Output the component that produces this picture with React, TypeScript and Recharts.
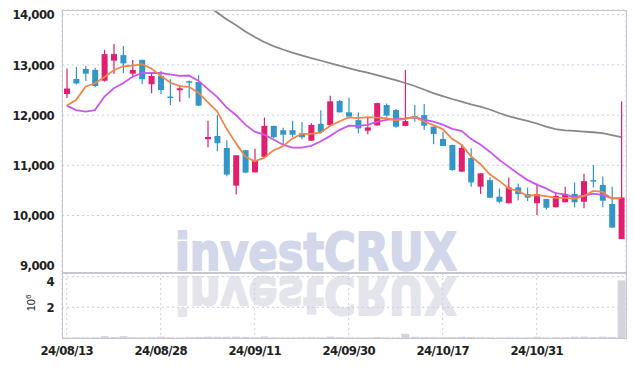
import { ComposedChart, BarChart, Bar, Line, XAxis, YAxis, CartesianGrid } from 'recharts';

// trading days, 24/08/13 .. 24/11/13
const dates = [
  '24/08/13', '24/08/14', '24/08/16', '24/08/19', '24/08/20', '24/08/21', '24/08/22', '24/08/23', '24/08/26', '24/08/27',
  '24/08/28', '24/08/29', '24/08/30', '24/09/02', '24/09/03', '24/09/04', '24/09/05', '24/09/06', '24/09/09', '24/09/10',
  '24/09/11', '24/09/12', '24/09/13', '24/09/19', '24/09/20', '24/09/23', '24/09/24', '24/09/25', '24/09/26', '24/09/27',
  '24/09/30', '24/10/02', '24/10/04', '24/10/07', '24/10/08', '24/10/10', '24/10/11', '24/10/14', '24/10/15', '24/10/16',
  '24/10/17', '24/10/18', '24/10/21', '24/10/22', '24/10/23', '24/10/24', '24/10/25', '24/10/28', '24/10/29', '24/10/30',
  '24/10/31', '24/11/01', '24/11/04', '24/11/05', '24/11/06', '24/11/07', '24/11/08', '24/11/11', '24/11/12', '24/11/13',
];

const opens = [
  12420, 12720, 12920, 12900, 12685, 13085, 13195, 12825, 13100, 12615,
  12780, 12370, 12495, 12675, 12660, 11520, 11585, 11345, 10595, 11300,
  10860, 11170, 11785, 11700, 11700, 11640, 11490, 11825, 11800, 12280,
  12055, 11900, 11690, 11795, 12200, 12100, 11785, 11980, 12000, 11770,
  11525, 11405, 10875, 11145, 10575, 10705, 10375, 10245, 10560, 10430,
  10245, 10330, 10165, 10265, 10430, 10275, 10705, 10610, 10230, 9530,
];
const highs = [
  12930, 12960, 12980, 12945, 13300, 13415, 13375, 13100, 13110, 12835,
  12880, 12715, 12600, 12690, 12795, 11890, 12000, 11500, 11200, 11305,
  11330, 11955, 11790, 11750, 11890, 11865, 11840, 12095, 12385, 12300,
  12345, 12050, 11970, 12245, 12230, 12120, 12900, 12200, 12220, 11775,
  11670, 11410, 11425, 11340, 10845, 10760, 10540, 10755, 10640, 10560,
  10640, 10335, 10470, 10575, 10660, 10830, 11005, 10775, 10575, 12270,
];
const lows = [
  12340, 12610, 12680, 12555, 12670, 12820, 12835, 12765, 12615, 12435,
  12415, 12200, 12265, 12335, 12180, 11360, 11280, 10780, 10420, 10840,
  10855, 11165, 11540, 11405, 11560, 11520, 11490, 11635, 11795, 12050,
  11935, 11635, 11620, 11790, 11970, 11750, 11780, 11870, 11705, 11420,
  11380, 10890, 10870, 10575, 10430, 10350, 10245, 10240, 10300, 10290,
  10010, 10120, 10160, 10260, 10165, 10145, 10560, 10165, 9755, 9530,
];
const closes = [
  12530, 12630, 12825, 12580, 13215, 13215, 13030, 12900, 12715, 12780,
  12500, 12355, 12535, 12645, 12190, 11565, 11440, 10815, 11200, 10855,
  11090, 11785, 11560, 11610, 11610, 11560, 11805, 11665, 12275, 12055,
  11970, 11735, 11755, 12240, 11990, 11770, 11880, 11930, 11790, 11625,
  11385, 10905, 11345, 10660, 10840, 10355, 10275, 10560, 10425, 10355,
  10430, 10155, 10390, 10430, 10265, 10685, 10675, 10295, 9760, 10360,
];
// volume in millions of shares
const volumes = [
  0.03, 0.04, 0.03, 0.05, 0.12, 0.06, 0.12, 0.05, 0.04, 0.05,
  0.09, 0.04, 0.03, 0.05, 0.07, 0.09, 0.08, 0.08, 0.09, 0.07,
  0.05, 0.1, 0.04, 0.03, 0.03, 0.04, 0.05, 0.04, 0.09, 0.05,
  0.04, 0.03, 0.03, 0.06, 0.04, 0.03, 0.27, 0.08, 0.06, 0.05,
  0.05, 0.06, 0.08, 0.07, 0.05, 0.04, 0.03, 0.04, 0.03, 0.04,
  0.08, 0.04, 0.04, 0.05, 0.09, 0.09, 0.06, 0.09, 0.07, 3.76,
];

// moving average values at the start of the window (depend on earlier days)
const ma5Head = [12190, 12300, 12565, 12635];
const ma10Head = [12190, 12100, 12070, 12100, 12365, 12535, 12635, 12765, 12835];
// long moving average (off the top before 24/09/04)
const ma60 = [
  null, null, null, null, null, null, null, null, null, null,
  null, null, null, null, null, 14183, 14044, 13908, 13795, 13665,
  13556, 13456, 13376, 13307, 13247, 13191, 13137, 13088, 13038, 12988,
  12938, 12888, 12845, 12799, 12749, 12699, 12640, 12580, 12510, 12440,
  12380, 12321, 12267, 12215, 12171, 12112, 12042, 11982, 11932, 11883,
  11833, 11773, 11723, 11697, 11687, 11673, 11659, 11643, 11603, 11564,
];

const priceTicks = [9000, 10000, 11000, 12000, 13000, 14000];
const volumeTicks = [2, 4];
const dateTicks = ['24/08/13', '24/08/28', '24/09/11', '24/09/30', '24/10/17', '24/10/31'];

const RED = '#e01f6e';
const BLUE = '#3296c8';
const GRID = '#c9cde2';
const FRAME = '#c6c6d0';
const FONT = "'DejaVu Sans Condensed', 'Liberation Sans Narrow', sans-serif";
const tickStyle = { fill: '#222', fontSize: 13, fontWeight: 700, fontFamily: FONT, letterSpacing: -0.6 };

function movingAverage(i: number, n: number, head: number[]) {
  if (i < n - 1) return head[i];
  let sum = 0;
  for (let k = i - n + 1; k <= i; k++) sum += closes[k];
  return sum / n;
}

const data = dates.map((date, i) => ({
  date,
  open: opens[i],
  high: highs[i],
  low: lows[i],
  close: closes[i],
  range: [lows[i], highs[i]],
  ma5: movingAverage(i, 5, ma5Head),
  ma10: movingAverage(i, 10, ma10Head),
  ma60: ma60[i],
  volume: volumes[i],
}));

function Candle(props: any) {
  const { x, y, width, height, payload } = props;
  const { open, close, high, low } = payload;
  const color = close >= open ? RED : BLUE;
  const ratio = high > low ? height / (high - low) : 0;
  const yOf = (v: number) => y + (high - v) * ratio;
  const cx = x + width / 2;
  const top = yOf(Math.max(open, close));
  const bottom = yOf(Math.min(open, close));
  return (
    <g>
      <line x1={cx} x2={cx} y1={y} y2={y + height} stroke={color} strokeWidth={1.2} />
      <rect x={x} y={top} width={width} height={Math.max(1.5, bottom - top)} fill={color} />
    </g>
  );
}

const WM_FONT = "'DejaVu Sans', 'Liberation Sans', sans-serif";

export default function App() {
  return (
    <div style={{ position: 'absolute', left: 0, top: 0, width: 635, height: 367, background: '#fff' }}>
      {/* watermark with its reflection */}
      <svg width={635} height={367} style={{ position: 'absolute', left: 0, top: 0 }}>
        <text x={175} y={270} fontSize={51} fontWeight={700} fill="#d2d7ea" stroke="#d2d7ea" strokeWidth={2}
          strokeLinejoin="round" fontFamily={WM_FONT} textLength={282} lengthAdjust="spacingAndGlyphs">
          investCRUX
        </text>
        <g transform="translate(0,547) scale(1,-1)">
          <text x={175} y={270} fontSize={51} fontWeight={700} fill="#e4e4ec" stroke="#e4e4ec" strokeWidth={2}
            strokeLinejoin="round" fontFamily={WM_FONT} textLength={282} lengthAdjust="spacingAndGlyphs">
            investCRUX
          </text>
        </g>
        <text transform="translate(35,303) rotate(-90)" textAnchor="middle" fontSize={11} fill="#222"
          fontFamily="'Liberation Sans', Arial, sans-serif">
          10<tspan dy={-4} fontSize={8}>6</tspan>
        </text>
      </svg>

      <div style={{ position: 'absolute', left: 0, top: 0 }}>
        <ComposedChart width={635} height={274} data={data} margin={{ top: 10, right: 9, bottom: 1, left: 0 }}>
          <CartesianGrid stroke={GRID} strokeDasharray="2 3" />
          <XAxis dataKey="date" ticks={dateTicks} interval={0} height={0} tick={false} axisLine={false} tickLine={false} />
          <YAxis
            width={62}
            domain={[8855, 14094]}
            allowDataOverflow
            ticks={priceTicks}
            tickFormatter={(v: number) => v.toLocaleString('en-US')}
            tick={tickStyle}
            axisLine={false}
            tickLine={false}
          />
          <Bar dataKey="range" barSize={6} shape={<Candle />} isAnimationActive={false} />
          <Line dataKey="ma60" stroke="#888" strokeWidth={1.8} dot={false} isAnimationActive={false} />
          <Line dataKey="ma10" stroke="#cc55ee" strokeWidth={1.8} dot={false} isAnimationActive={false} />
          <Line dataKey="ma5" stroke="#f0874a" strokeWidth={1.8} dot={false} isAnimationActive={false} />
        </ComposedChart>
      </div>

      <div style={{ position: 'absolute', left: 0, top: 273 }}>
        <BarChart width={635} height={94} data={data} margin={{ top: 0, right: 9, bottom: 0, left: 0 }}>
          <CartesianGrid stroke={GRID} strokeDasharray="2 3" />
          <XAxis dataKey="date" ticks={dateTicks} interval={0} height={29} tick={tickStyle} axisLine={false} tickLine={false} />
          <YAxis width={62} domain={[0, 4.24]} ticks={volumeTicks} tick={tickStyle} axisLine={false} tickLine={false} />
          <Bar dataKey="volume" barSize={8} fill="#d4d4dc" isAnimationActive={false} />
        </BarChart>
      </div>

      {/* panel frames */}
      <div style={{ position: 'absolute', left: 62, top: 10, width: 563, height: 327, border: `1px solid ${FRAME}`, pointerEvents: 'none' }} />
      <div style={{ position: 'absolute', left: 62, top: 272, width: 565, height: 2, background: FRAME, pointerEvents: 'none' }} />
    </div>
  );
}
